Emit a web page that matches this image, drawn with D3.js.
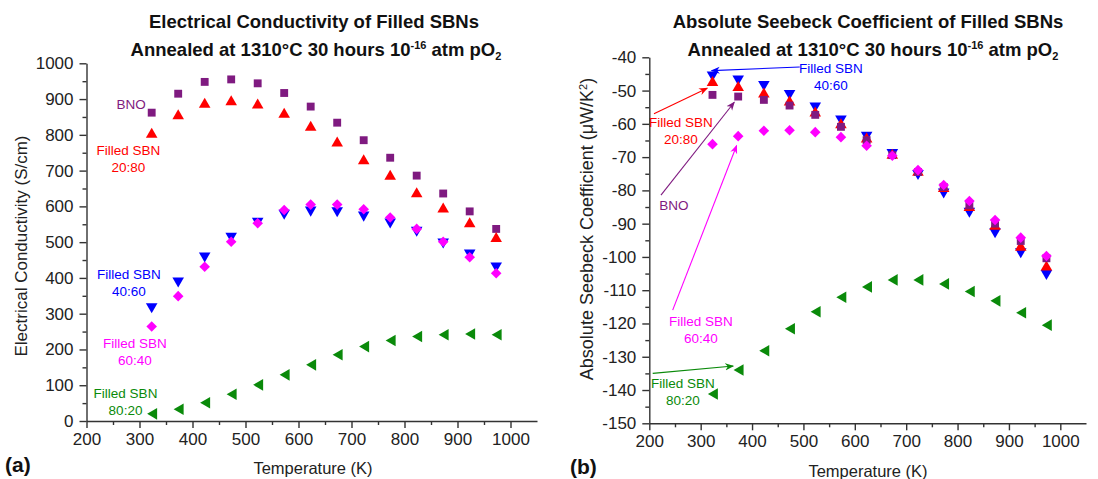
<!DOCTYPE html>
<html>
<head>
<meta charset="utf-8">
<script src="https://cdn.jsdelivr.net/npm/d3@7"></script>
<style>
  body { margin: 0; background: #fff; }
  svg { font-family: "Liberation Sans", Arial, sans-serif; }
  .axis path, .axis line { stroke: #333; stroke-width: 1.4; }
  .axis text { font-size: 17px; fill: #222; }
</style>
</head>
<body>
<svg id="chart" width="1098" height="479"></svg>
<script>
// temperatures (K)
const temps = [323, 373, 423, 473, 523, 573, 623, 673, 723, 773, 823, 873, 923, 973];
const tempsGreen = [327, 377, 427, 477, 527, 577, 627, 677, 727, 777, 827, 877, 927, 977];

// (a) electrical conductivity, S/cm
const condBNO   = [862, 915, 948, 955, 944, 917, 879, 834, 785, 736, 686, 636, 586, 537];
const cond2080  = [801, 853, 885, 892, 883, 857, 821, 777, 727, 684, 635, 592, 551, 510];
const cond4060  = [320, 392, 462, 517, 559, 581, 590, 588, 576, 557, 534, 501, 470, 434];
const cond6040  = [264, 349, 431, 501, 553, 590, 605, 605, 592, 569, 537, 501, 458, 413];
const cond8020  = [20, 33, 51, 75, 101, 129, 157, 185, 208, 225, 236, 241, 243, 241];

// (b) absolute seebeck coefficient, uV/K
const seeBNO   = [-51.3, -51.8, -52.8, -54.5, -57.3, -60.9, -64.9, -69.4, -74.5, -79.0, -84.5, -90.0, -95.2, -100.4];
const see2080  = [-47.6, -49.1, -51.1, -53.5, -56.8, -60.3, -64.6, -69.5, -74.6, -79.5, -85.2, -90.8, -97.1, -103.1];
const see4060  = [-45.3, -46.5, -48.1, -50.8, -54.6, -58.5, -63.4, -68.6, -74.9, -80.4, -86.2, -92.4, -98.4, -104.9];
const see6040  = [-66.1, -63.7, -62.1, -61.9, -62.5, -64.0, -66.6, -69.6, -73.9, -78.4, -83.2, -88.9, -94.2, -99.7];
const see8020  = [-141.2, -134.0, -128.2, -121.6, -116.5, -112.1, -109.0, -106.9, -106.9, -108.1, -110.4, -113.2, -116.8, -120.5];

const xTicks = [200, 300, 400, 500, 600, 700, 800, 900, 1000];
const condTicks = d3.range(0, 1001, 100);
const seeTicks = d3.range(-150, -39, 10);

const colors = {bno: "#7f1a80", r: "#ff0000", b: "#0000ff", m: "#ff00ff", g: "#0a8a0a"};

const svg = d3.select("#chart");

// marker shapes
function shape(kind) {
  if (kind === "square") return {p: d3.symbol(d3.symbolSquare, 62)(), rot: 0};
  if (kind === "diamond") return {p: d3.symbol(d3.symbolSquare, 56)(), rot: 45};
  if (kind === "up") return {p: d3.symbol(d3.symbolTriangle, 58)(), rot: 0};
  if (kind === "down") return {p: d3.symbol(d3.symbolTriangle, 58)(), rot: 180};
  if (kind === "left") return {p: d3.symbol(d3.symbolTriangle, 58)(), rot: -90};
}

// arrowheads
const defs = svg.append("defs");
Object.entries(colors).forEach(([k, c]) => {
  defs.append("marker")
    .attr("id", "arr-" + k)
    .attr("viewBox", "0 0 10 10")
    .attr("refX", 9).attr("refY", 5)
    .attr("markerWidth", 9).attr("markerHeight", 9)
    .attr("markerUnits", "userSpaceOnUse")
    .attr("orient", "auto")
    .append("path")
    .attr("d", "M0,1 L10,5 L0,9 L3,5 Z")
    .attr("fill", c);
});

function panel(cfg) {
  let x = d3.scaleLinear().domain([200, 1050]).range(cfg.xr);
  let y = d3.scaleLinear().domain(cfg.yd).range(cfg.yr);
  let g = svg.append("g");

  // minor ticks first
  g.append("g").attr("class", "axis")
    .attr("transform", `translate(0,${cfg.yr[0]})`)
    .call(d3.axisBottom(x).tickValues(d3.range(250, 1050, 100)).tickSize(4).tickFormat(""))
    .select(".domain").remove();
  g.append("g").attr("class", "axis")
    .attr("transform", `translate(${cfg.xr[0]},0)`)
    .call(d3.axisLeft(y).tickValues(cfg.minor).tickSize(4).tickFormat(""))
    .select(".domain").remove();

  g.append("g").attr("class", "axis")
    .attr("transform", `translate(0,${cfg.yr[0]})`)
    .call(d3.axisBottom(x).tickValues(xTicks).tickSize(7).tickSizeOuter(0).tickPadding(5)
      .tickFormat(d3.format("d")));
  g.append("g").attr("class", "axis")
    .attr("transform", `translate(${cfg.xr[0]},0)`)
    .call(d3.axisLeft(y).tickValues(cfg.ticks).tickSize(7).tickSizeOuter(0).tickPadding(6)
      .tickFormat(d => String(d)));

  // series
  cfg.series.forEach(s => {
    let sh = shape(s.kind);
    g.append("g").selectAll("path")
      .data(s.vals.map((v, i) => [s.xs[i], v]))
      .join("path")
      .attr("d", sh.p)
      .attr("transform", d => `translate(${x(d[0])},${y(d[1])}) rotate(${sh.rot})`)
      .attr("fill", s.color);
  });

  // annotations
  cfg.notes.forEach(n => {
    let t = g.append("text")
      .attr("x", x(n.x)).attr("y", y(n.y))
      .attr("text-anchor", "middle")
      .attr("fill", n.color)
      .style("font-size", "13.5px");
    n.lines.forEach((l, i) => {
      t.append("tspan").attr("x", x(n.x)).attr("dy", i === 0 ? 0 : n.gap || 17).text(l);
    });
  });
  (cfg.arrows || []).forEach(a => {
    g.append("line")
      .attr("x1", x(a.from[0])).attr("y1", y(a.from[1]))
      .attr("x2", x(a.to[0])).attr("y2", y(a.to[1]))
      .attr("stroke", colors[a.c]).attr("stroke-width", 1.1)
      .attr("marker-end", `url(#arr-${a.c})`);
  });

  // titles
  let cx = cfg.titleX;
  g.append("text").attr("x", cx[0]).attr("y", 28).attr("text-anchor", "middle")
    .style("font-size", "18.5px").style("font-weight", "bold").attr("fill", "#111")
    .text(cfg.title);
  let t2 = g.append("text").attr("x", cx[1]).attr("y", 56).attr("text-anchor", "middle")
    .style("font-size", "18.5px").style("font-weight", "bold").attr("fill", "#111");
  t2.append("tspan").text("Annealed at 1310°C 30 hours 10");
  t2.append("tspan").attr("dy", -7).style("font-size", "11px").text("-16");
  t2.append("tspan").attr("dy", 7).text(" atm pO");
  t2.append("tspan").attr("dy", 4).style("font-size", "11px").text("2");

  // axis labels
  g.append("text").attr("x", cfg.xLab[0]).attr("y", cfg.xLab[1]).attr("text-anchor", "middle")
    .style("font-size", "16.5px").attr("fill", "#222").text("Temperature (K)");
  let yl = g.append("text")
    .attr("transform", `translate(${cfg.yLab[0]},${cfg.yLab[1]}) rotate(-90)`)
    .attr("text-anchor", "middle")
    .style("font-size", cfg.yLabSize).attr("fill", "#222");
  cfg.yLabel(yl);

  g.append("text").attr("x", cfg.tag[0]).attr("y", cfg.tag[1])
    .style("font-size", "21px").style("font-weight", "bold").attr("fill", "#111").text(cfg.tagText);
}

panel({
  xr: [86.5, 537], yd: [0, 1000], yr: [421, 63.3],
  ticks: condTicks, minor: d3.range(50, 1000, 100),
  series: [
    {vals: condBNO, xs: temps, kind: "square", color: colors.bno},
    {vals: cond2080, xs: temps, kind: "up", color: colors.r},
    {vals: cond4060, xs: temps, kind: "down", color: colors.b},
    {vals: cond6040, xs: temps, kind: "diamond", color: colors.m},
    {vals: cond8020, xs: tempsGreen, kind: "left", color: colors.g}
  ],
  notes: [
    {x: 284, y: 872, lines: ["BNO"], color: colors.bno},
    {x: 279, y: 744, lines: ["Filled SBN", "20:80"], color: colors.r},
    {x: 280, y: 397, lines: ["Filled SBN", "40:60"], color: colors.b},
    {x: 291.5, y: 204, lines: ["Filled SBN", "60:40"], color: colors.m},
    {x: 273.6, y: 64, lines: ["Filled SBN", "80:20"], color: colors.g}
  ],
  title: "Electrical Conductivity  of Filled SBNs",
  titleX: [314, 316],
  xLab: [313, 474],
  yLab: [27, 246], yLabSize: "17px",
  yLabel: t => t.text("Electrical Conductivity (S/cm)"),
  tag: [5, 472], tagText: "(a)"
});

panel({
  xr: [649.3, 1086], yd: [-150, -40], yr: [423.3, 57.3],
  ticks: seeTicks, minor: d3.range(-145, -40, 10),
  series: [
    {vals: see4060, xs: temps, kind: "down", color: colors.b},
    {vals: see2080, xs: temps, kind: "up", color: colors.r},
    {vals: seeBNO, xs: temps, kind: "square", color: colors.bno},
    {vals: see6040, xs: temps, kind: "diamond", color: colors.m},
    {vals: see8020, xs: tempsGreen, kind: "left", color: colors.g}
  ],
  notes: [
    {x: 553.5, y: -44.6, lines: ["Filled SBN", "40:60"], color: colors.b, gap: 17},
    {x: 261.7, y: -61.0, lines: ["Filled SBN", "20:80"], color: colors.r},
    {x: 248, y: -85.9, lines: ["BNO"], color: colors.bno},
    {x: 300.6, y: -120.8, lines: ["Filled SBN", "60:40"], color: colors.m},
    {x: 265.4, y: -139.4, lines: ["Filled SBN", "80:20"], color: colors.g}
  ],
  arrows: [
    {from: [492.8, -42.9], to: [321.4, -44.0], c: "b"},
    {from: [209.1, -57.0], to: [312.8, -49.3], c: "r"},
    {from: [222.7, -81.4], to: [365.4, -53.5], c: "bno"},
    {from: [245.5, -116.0], to: [370.0, -66.5], c: "m"},
    {from: [206.6, -135.0], to: [363.4, -132.8], c: "g"}
  ],
  title: "Absolute Seebeck Coefficient  of Filled SBNs",
  titleX: [868, 873],
  xLab: [868, 477],
  yLab: [593, 229], yLabSize: "18px",
  yLabel: t => {
    t.append("tspan").text("Absolute Seebeck Coefficient (\u03bcW/K");
    t.append("tspan").attr("dy", -6).style("font-size", "11px").text("2");
    t.append("tspan").attr("dy", 6).text(")");
  },
  tag: [570, 474], tagText: "(b)"
});
</script>
</body>
</html>
